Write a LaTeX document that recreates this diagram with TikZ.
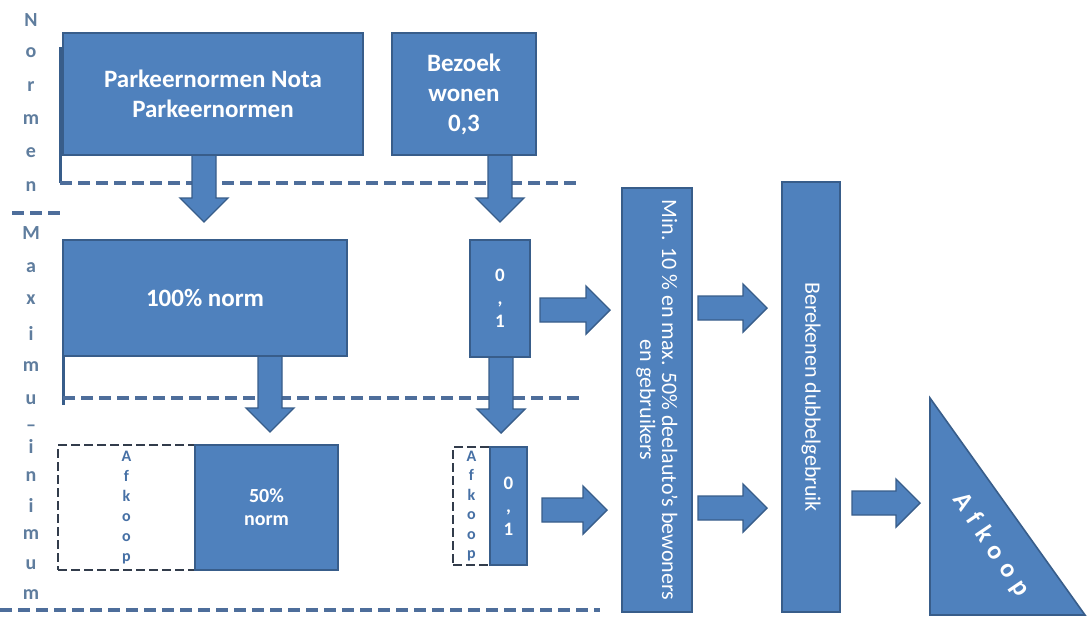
\documentclass[tikz,border=0pt]{standalone}
\usepackage{fontspec}
\setmainfont{Carlito}
\definecolor{boxblue}{RGB}{79,129,189}
\definecolor{boxedge}{RGB}{56,93,138}
\definecolor{dashblue}{RGB}{78,110,155}
\definecolor{dashdark}{RGB}{50,60,75}
\definecolor{lettergray}{RGB}{95,125,158}
\definecolor{afkblue}{RGB}{70,112,165}
\newcommand\ArrD[3]{% xc, ytop, ytip
  \draw[blk] (#1-12,#2) -- (#1-12,#3-24) -- (#1-24,#3-24) -- (#1,#3) -- (#1+24,#3-24) -- (#1+12,#3-24) -- (#1+12,#2) -- cycle;}
\newcommand\ArrR[3]{% x1, x2, yc
  \draw[blk] (#1,#3-12) -- (#2-24,#3-12) -- (#2-24,#3-24) -- (#2,#3) -- (#2-24,#3+24) -- (#2-24,#3+12) -- (#1,#3+12) -- cycle;}
\tikzset{
  box/.style={draw=boxedge, fill=boxblue, line width=1.6pt, inner sep=0pt, text=white},
  blk/.style={draw=boxedge, fill=boxblue, line width=1.4pt, line join=miter},
  sepline/.style={draw=dashblue, line width=3.5pt, dash pattern=on 12pt off 6pt},
  brk/.style={draw=boxedge, line width=3pt},
  dbox/.style={draw=dashdark, line width=2.8pt, dash pattern=on 9pt off 4pt, fill=white, inner sep=0pt},
  lbl/.style={text=lettergray, font=\fontsize{20}{20}\selectfont\bfseries, inner sep=0pt},
  bigtxt/.style={font=\fontsize{25}{30}\selectfont\bfseries, align=center, text=white},
  rottxt/.style={font=\fontsize{22}{24}\selectfont, align=center, text=white, rotate=-90},
}
\begin{document}
\begin{tikzpicture}[x=1pt,y=-1pt]
\useasboundingbox (0,0) rectangle (1087,616);
% side letters
\foreach \ch/\yy [count=\i] in {N/20,o/53,r/87,m/120,e/153,n/187,M/233,a/268,x/300,i/333,m/367,u/400,\textendash/428,i/446,n/477,i/505,m/535,u/565,m/595}
  { \node[lbl] (L\i) at (31,\yy) {\ch}; }
% region separators
\coordinate (n0) at (60,47); \coordinate (n1) at (60,183); \coordinate (n2) at (580,183);
\draw[brk] (n0) -- (n1);
\draw[sepline] (n1) -- (n2);
\coordinate (m0) at (63,277); \coordinate (m1) at (63,405); \coordinate (m2) at (63,398); \coordinate (m3) at (580,398);
\draw[brk] (m0) -- (m1);
\draw[sepline] (m2) -- (m3);
\coordinate (s0) at (12,213); \coordinate (s1) at (62,213);
\draw[sepline] (s0) -- (s1);
\coordinate (b0) at (0,610); \coordinate (b1) at (600,610);
\draw[sepline] (b0) -- (b1);
% arrows
\ArrD{204}{155}{222}
\ArrD{500}{155}{222}
\ArrD{270}{356}{432}
\ArrD{501}{357}{433}
\ArrR{540}{610}{310}
\ArrR{542}{607}{510}
\ArrR{698}{767}{308}
\ArrR{698}{767}{508}
\ArrR{852}{920}{503}
% boxes
\node[box, minimum width=300pt, minimum height=122pt] (pk) at (213,94) {};
\node[bigtxt] at (pk.center) {Parkeernormen Nota\\Parkeernormen};
\node[box, minimum width=144pt, minimum height=122pt] (bz) at (464,94) {};
\node[bigtxt] at (bz.center) {Bezoek\\wonen\\0,3};
\node[box, minimum width=284pt, minimum height=116pt] (n100) at (205,298) {};
\node[bigtxt] at (n100.center) {100\% norm};
\node[box, minimum width=60pt, minimum height=117pt] (r01) at (500,298.5) {};
\node[font=\fontsize{19}{23}\selectfont\bfseries, align=center, text=white] at (r01.center) {0\\,\\1};
\node[dbox, minimum width=137pt, minimum height=125pt] (af1) at (126.5,507.5) {};
\node[box, minimum width=143pt, minimum height=125pt] (n50) at (266.5,507.5) {};
\node[font=\fontsize{20}{23}\selectfont\bfseries, align=center, text=white] at (n50.center) {50\%\\norm};
\node[font=\fontsize{16}{20}\selectfont\bfseries, align=center, text=afkblue] at (af1.center) {A\\f\\k\\o\\o\\p};
\node[dbox, minimum width=37pt, minimum height=118pt] (af2) at (471.5,506) {};
\node[box, minimum width=37pt, minimum height=118pt] (r01b) at (508.5,506) {};
\node[font=\fontsize{16}{19.5}\selectfont\bfseries, align=center, text=afkblue] at (af2.center) {A\\f\\k\\o\\o\\p};
\node[font=\fontsize{19}{23}\selectfont\bfseries, align=center, text=white] at (r01b.center) {0\\,\\1};
\node[box, minimum width=70pt, minimum height=424pt] (minbox) at (657,400) {};
\node[rottxt, font=\fontsize{22}{22}\selectfont] at (minbox.center) {Min. 10 \% en max. 50\% deelauto’s bewoners\\en gebruikers};
\node[box, minimum width=58pt, minimum height=430pt] (ber) at (811,397) {};
\node[rottxt] at (ber.center) {Berekenen dubbelgebruik};
% triangle
\coordinate (t1) at (930,398); \coordinate (t2) at (930,615); \coordinate (t3) at (1085,615);
\draw[box] (t1) -- (t2) -- (t3) -- cycle;
\node[font=\fontsize{26}{26}\selectfont\bfseries, text=white, rotate=-56] (afk) at (991,545) {A\kern8pt f\kern8pt k\kern8pt o\kern8pt o\kern8pt p};
\end{tikzpicture}
\end{document}
